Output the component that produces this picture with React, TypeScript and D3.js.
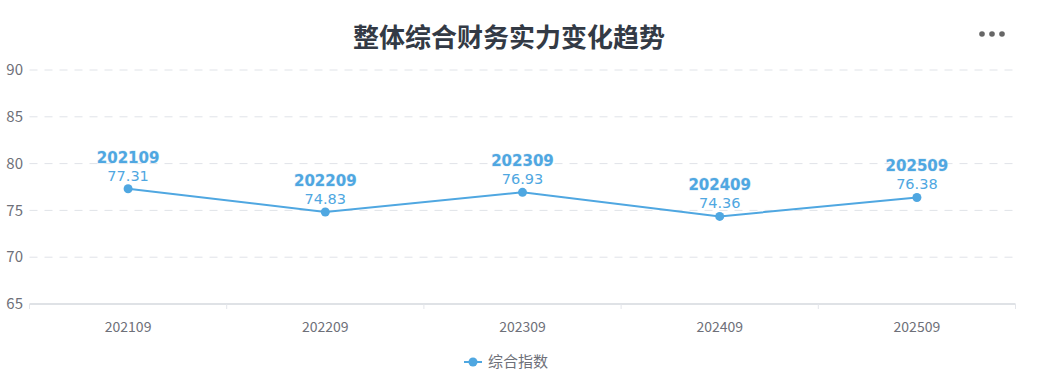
import React from "react";
import * as d3 from "d3";

const categories = ["202109", "202209", "202309", "202409", "202509"];
const values = [77.31, 74.83, 76.93, 74.36, 76.38];
const yTicks = [65, 70, 75, 80, 85, 90];
const title = "整体综合财务实力变化趋势";
const seriesName = "综合指数";

const W = 1045, H = 385;
const left = 29.5, right = 1015.5, top = 70, bottom = 304;
const color = "#4fa7e1";
const font = "'Noto Sans CJK SC', 'Noto Sans', sans-serif";
const labelFont = "'DejaVu Sans', Verdana, sans-serif";

export default function App() {
  const x = d3.scaleBand<string>().domain(categories).range([left, right]);
  const y = d3.scaleLinear().domain([65, 90]).range([bottom, top]);
  const line = d3.line<number>()
    .x((_, i) => (x(categories[i]) as number) + x.bandwidth() / 2)
    .y((d) => y(d));
  const boundaries = categories.map((c) => x(c) as number).concat([right]);
  return (
    <svg width={W} height={H} style={{ position: "absolute", left: 0, top: 0, background: "#fff" }} fontFamily={font}>
      <text x={509} y={47} textAnchor="middle" fontSize={26} fontWeight="bold" fill="#333a45">{title}</text>
      <g fill="#666">
        {[982, 992, 1002].map((cx) => <circle key={cx} cx={cx} cy={34} r={2.8} />)}
      </g>
      {yTicks.map((t) => (
        <g key={t}>
          {t !== 65 && (
            <line x1={left} x2={right} y1={y(t)} y2={y(t)} stroke="#e0e3e8" strokeDasharray="8,7" strokeWidth={1} />
          )}
          <text x={23} y={y(t)} dy="0.35em" textAnchor="end" fontSize={15} fill="#6e7079">{t}</text>
        </g>
      ))}
      <line x1={left} x2={right} y1={bottom} y2={bottom} stroke="#d5d8de" strokeWidth={1.5} />
      {boundaries.map((b, i) => (
        <line key={i} x1={b} x2={b} y1={bottom} y2={bottom + 5} stroke="#e3e5ea" strokeWidth={1} />
      ))}
      {categories.map((c) => (
        <text key={c} x={(x(c) as number) + x.bandwidth() / 2} y={332} textAnchor="middle" fontSize={14} fill="#6e7079">{c}</text>
      ))}
      <path d={line(values) || ""} fill="none" stroke={color} strokeWidth={2} />
      {values.map((v, i) => {
        const cx = (x(categories[i]) as number) + x.bandwidth() / 2;
        const cy = y(v);
        return (
          <g key={i} fontFamily={labelFont}>
            <circle cx={cx} cy={cy} r={4.5} fill={color} />
            <text x={cx} y={cy - 26} textAnchor="middle" fontSize={15} fontWeight="bold" fill={color} stroke="#dbeaf6" strokeWidth={0.8} paintOrder="stroke">{categories[i]}</text>
            <text x={cx} y={cy - 8} textAnchor="middle" fontSize={14.5} fill={color}>{v.toFixed(2)}</text>
          </g>
        );
      })}
      <g>
        <line x1={464} x2={482} y1={362} y2={362} stroke={color} strokeWidth={2} />
        <circle cx={473} cy={362} r={4.5} fill={color} />
        <text x={488} y={362} dy="0.35em" fontSize={15} fill="#6e7079">{seriesName}</text>
      </g>
    </svg>
  );
}
